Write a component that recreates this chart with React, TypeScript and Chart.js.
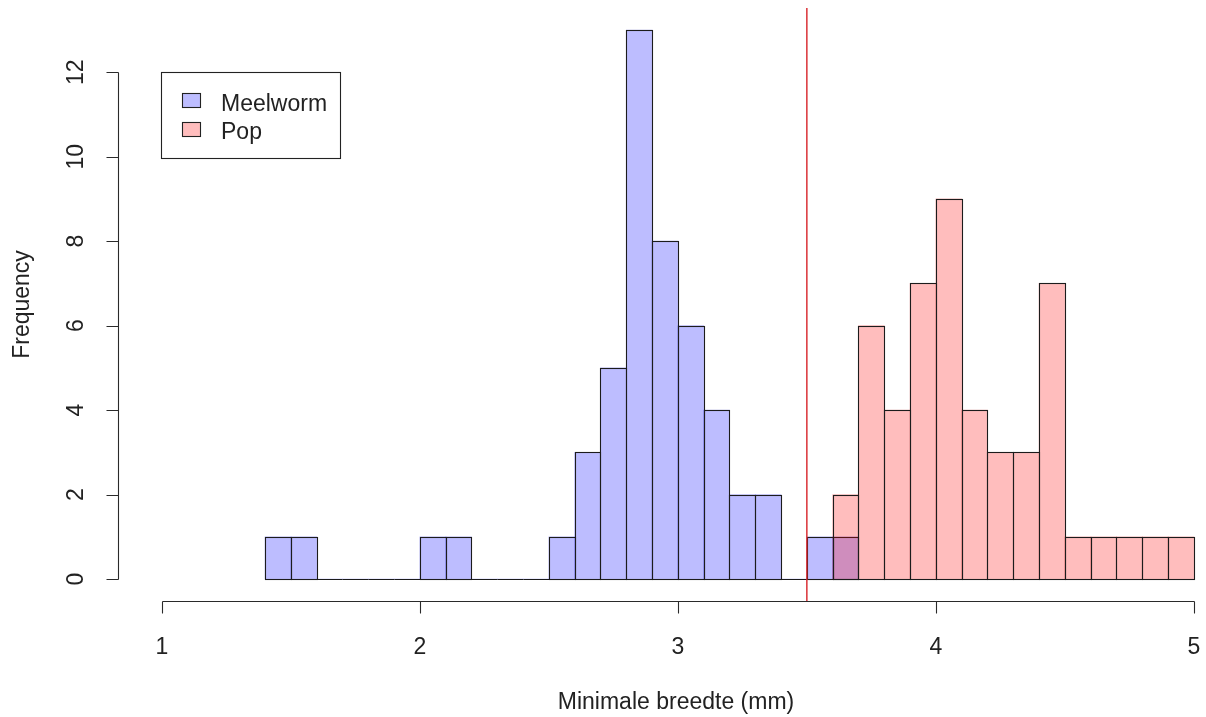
import React, { useEffect, useRef } from "react";
import { Chart, registerables } from "chart.js";

Chart.register(...registerables);

// ---- data ----
const binWidth = 0.1;
const meelwormStart = 1.4;
const meelwormCounts = [1, 1, 0, 0, 0, 0, 1, 1, 0, 0, 0, 1, 3, 5, 13, 8, 6, 4, 2, 2, 0, 1, 1];
const popStart = 3.6;
const popCounts = [2, 6, 4, 7, 9, 4, 3, 3, 7, 1, 1, 1, 1, 1];
const seriesLabels = ["Meelworm", "Pop"];
const xTickValues = [1, 2, 3, 4, 5];
const yTickValues = [0, 2, 4, 6, 8, 10, 12];
const cutoffValue = 3.5;
const xTitle = "Minimale breedte (mm)";
const yTitle = "Frequency";

const blueFill = "rgba(0,0,255,0.26)";
const pinkFill = "rgba(255,0,0,0.26)";
const FONT = '23px "Liberation Sans", Arial, sans-serif';
const INK = "#222";

const toPoints = (start: number, counts: number[]) =>
  counts.map((c, i) => ({ x: +(start + (i + 0.5) * binWidth).toFixed(4), y: c }));

const rPlugin = {
  id: "rstyle",
  afterDatasetDraw(chart: any, args: any) {
    const ctx = chart.ctx;
    const meta = args.meta;
    ctx.save();
    ctx.strokeStyle = "#1c1c1c";
    ctx.lineWidth = 1.1;
    meta.data.forEach((el: any) => {
      const p = el.getProps(["x", "y", "base", "width"], true);
      const l = Math.round(p.x - p.width / 2) + 0.5;
      const r = Math.round(p.x + p.width / 2) + 0.5;
      const t = Math.round(p.y) + 0.5;
      const b = Math.round(p.base) + 0.5;
      ctx.strokeRect(l, t, r - l, b - t);
    });
    ctx.restore();
  },
  afterDatasetsDraw(chart: any) {
    const ctx = chart.ctx;
    const xs = chart.scales.x;
    const ys = chart.scales.y;
    const area = chart.chartArea;
    ctx.save();

    // cutoff line
    const cx = xs.getPixelForValue(cutoffValue);
    ctx.strokeStyle = "rgb(215,35,40)";
    ctx.lineWidth = 1.4;
    ctx.beginPath();
    ctx.moveTo(cx, area.top);
    ctx.lineTo(cx, area.bottom);
    ctx.stroke();

    // axes
    ctx.strokeStyle = "#2a2a2a";
    ctx.lineWidth = 1.1;
    ctx.fillStyle = INK;
    ctx.font = FONT;

    const ax = Math.round(area.bottom) + 0.5;
    const x0 = xs.getPixelForValue(xTickValues[0]);
    const x1 = xs.getPixelForValue(xTickValues[xTickValues.length - 1]);
    ctx.beginPath();
    ctx.moveTo(Math.round(x0) + 0.5, ax);
    ctx.lineTo(Math.round(x1) + 0.5, ax);
    xTickValues.forEach((v) => {
      const px = Math.round(xs.getPixelForValue(v)) + 0.5;
      ctx.moveTo(px, ax);
      ctx.lineTo(px, ax + 12);
    });
    ctx.stroke();
    ctx.textAlign = "center";
    ctx.textBaseline = "alphabetic";
    xTickValues.forEach((v) => {
      ctx.fillText(String(v), xs.getPixelForValue(v), 654);
    });

    const ay = Math.round(area.left) + 0.5;
    const y0 = ys.getPixelForValue(yTickValues[0]);
    const y1 = ys.getPixelForValue(yTickValues[yTickValues.length - 1]);
    ctx.beginPath();
    ctx.moveTo(ay, Math.round(y0) + 0.5);
    ctx.lineTo(ay, Math.round(y1) + 0.5);
    yTickValues.forEach((v) => {
      const py = Math.round(ys.getPixelForValue(v)) + 0.5;
      ctx.moveTo(ay, py);
      ctx.lineTo(ay - 12, py);
    });
    ctx.stroke();
    yTickValues.forEach((v) => {
      ctx.save();
      ctx.translate(83, ys.getPixelForValue(v));
      ctx.rotate(-Math.PI / 2);
      ctx.fillText(String(v), 0, 0);
      ctx.restore();
    });

    // titles
    ctx.fillText(xTitle, 676, 709);
    ctx.save();
    ctx.translate(29, (area.top + area.bottom) / 2);
    ctx.rotate(-Math.PI / 2);
    ctx.fillText(yTitle, 0, 0);
    ctx.restore();

    // legend
    ctx.strokeStyle = "#222";
    ctx.strokeRect(161.5, 72.5, 179, 86);
    const fills = [blueFill, pinkFill];
    const rowY = [100, 129];
    const baseY = [111, 139];
    ctx.textAlign = "left";
    seriesLabels.forEach((lab, i) => {
      ctx.fillStyle = fills[i];
      ctx.fillRect(182.5, rowY[i] - 7 + 0.5, 18, 14);
      ctx.strokeStyle = "#222";
      ctx.strokeRect(182.5, rowY[i] - 7 + 0.5, 18, 14);
      ctx.fillStyle = INK;
      ctx.fillText(lab, 221, baseY[i]);
    });

    ctx.restore();
  },
};

export default function App() {
  const ref = useRef<HTMLCanvasElement | null>(null);
  useEffect(() => {
    if (!ref.current) return;
    const left = 118;
    const xMin = 0.83;
    const pxPerUnit = 258;
    const xMax = xMin + (1206 - left) / pxPerUnit;
    const chart = new Chart(ref.current, {
      type: "bar",
      data: {
        datasets: [
          {
            label: seriesLabels[0],
            data: toPoints(meelwormStart, meelwormCounts),
            backgroundColor: blueFill,
            borderWidth: 0,
            order: 2,
          },
          {
            label: seriesLabels[1],
            data: toPoints(popStart, popCounts),
            backgroundColor: pinkFill,
            borderWidth: 0,
            order: 1,
          },
        ] as any,
      },
      options: {
        animation: false,
        responsive: false,
        devicePixelRatio: 1,
        layout: { padding: { left: left, top: 8, right: 0, bottom: 116 } },
        datasets: { bar: { barPercentage: 1, categoryPercentage: 1, grouped: false } } as any,
        scales: {
          x: {
            type: "linear",
            min: xMin,
            max: xMax,
            offset: false,
            display: false,
            afterBuildTicks: (s: any) => {
              s.ticks = xTickValues.map((v) => ({ value: v }));
            },
          },
          y: {
            type: "linear",
            min: -0.52,
            max: 13.52,
            display: false,
            afterBuildTicks: (s: any) => {
              s.ticks = yTickValues.map((v) => ({ value: v }));
            },
          },
        },
        plugins: { legend: { display: false }, tooltip: { enabled: false } },
      },
      plugins: [rPlugin],
    });
    return () => chart.destroy();
  }, []);
  return (
    <canvas
      ref={ref}
      width={1206}
      height={717}
      style={{ position: "absolute", left: 0, top: 0, background: "#fff" }}
    />
  );
}
